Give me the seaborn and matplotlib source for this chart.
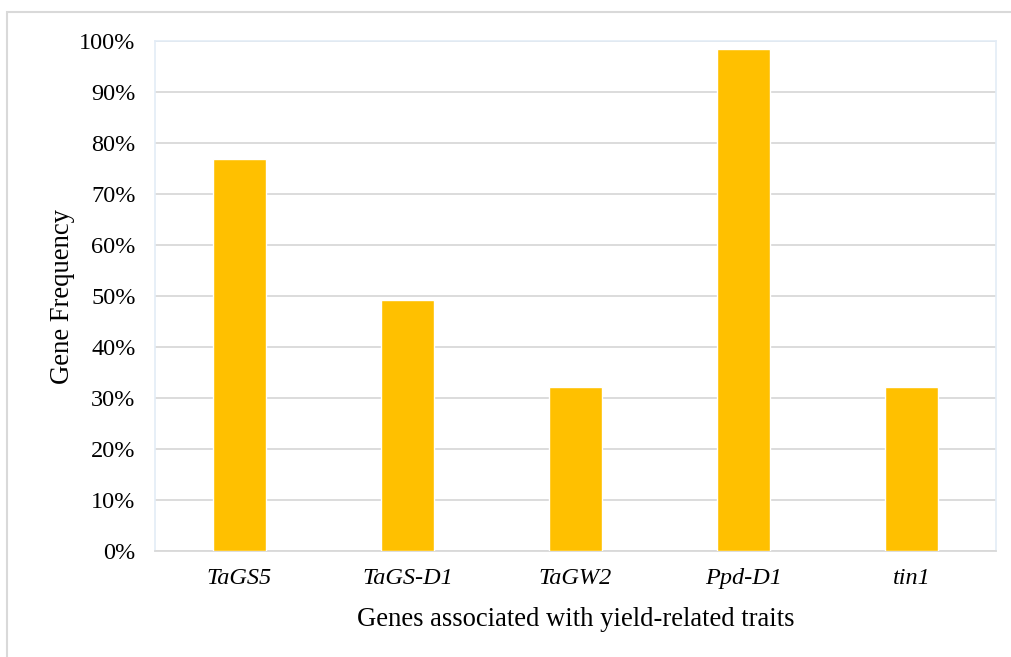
import matplotlib
matplotlib.use("Agg")
import matplotlib.pyplot as plt
import matplotlib.patches as mpatches
from matplotlib.ticker import PercentFormatter, MultipleLocator
import seaborn as sns
import pandas as pd

genes = ["TaGS5", "TaGS-D1", "TaGW2", "Ppd-D1", "tin1"]
frequency = [0.769, 0.492, 0.322, 0.985, 0.322]

df = pd.DataFrame({"gene": genes, "freq": frequency})

sns.set_theme(style="white")
plt.rcParams["font.family"] = ["Liberation Serif", "DejaVu Serif"]
plt.rcParams["text.color"] = "black"
plt.rcParams["axes.labelcolor"] = "black"

fig = plt.figure(figsize=(10.12, 6.57), dpi=100)
ax = fig.add_axes([155 / 1012, 1 - 551 / 657, 841 / 1012, 510 / 657])

sns.barplot(data=df, x="gene", y="freq", color="#FFC000", width=0.315,
            saturation=1, ax=ax, zorder=3)

ax.set_ylim(0, 1.0)
ax.yaxis.set_major_locator(MultipleLocator(0.1))
ax.yaxis.set_major_formatter(PercentFormatter(1.0, decimals=0))
ax.grid(axis="y", color="#D9D9D9", linewidth=1.3, zorder=0)
ax.set_axisbelow(True)

for side in ["left", "right", "top"]:
    ax.spines[side].set_color("#E3ECF6")
    ax.spines[side].set_linewidth(1.2)
ax.spines["bottom"].set_color("#D9D9D9")
ax.spines["bottom"].set_linewidth(1.3)

ax.tick_params(axis="y", labelsize=17.5, length=0, pad=14, colors="black")
ax.tick_params(axis="x", labelsize=17.5, length=0, pad=12, colors="black")
for lbl in ax.get_xticklabels():
    lbl.set_fontstyle("italic")

ax.set_xlabel("Genes associated with yield-related traits", fontsize=19.2, labelpad=13)
ax.set_ylabel("Gene Frequency", fontsize=19.2, labelpad=3)

# outer chart frame
frame = mpatches.Rectangle((7 / 1012, -0.05), 1.05, 1 - 12 / 657 + 0.05,
                           transform=fig.transFigure, fill=False,
                           edgecolor="#D9D9D9", linewidth=1.5)
fig.patches.append(frame)

fig.savefig("out.png", dpi=100)
